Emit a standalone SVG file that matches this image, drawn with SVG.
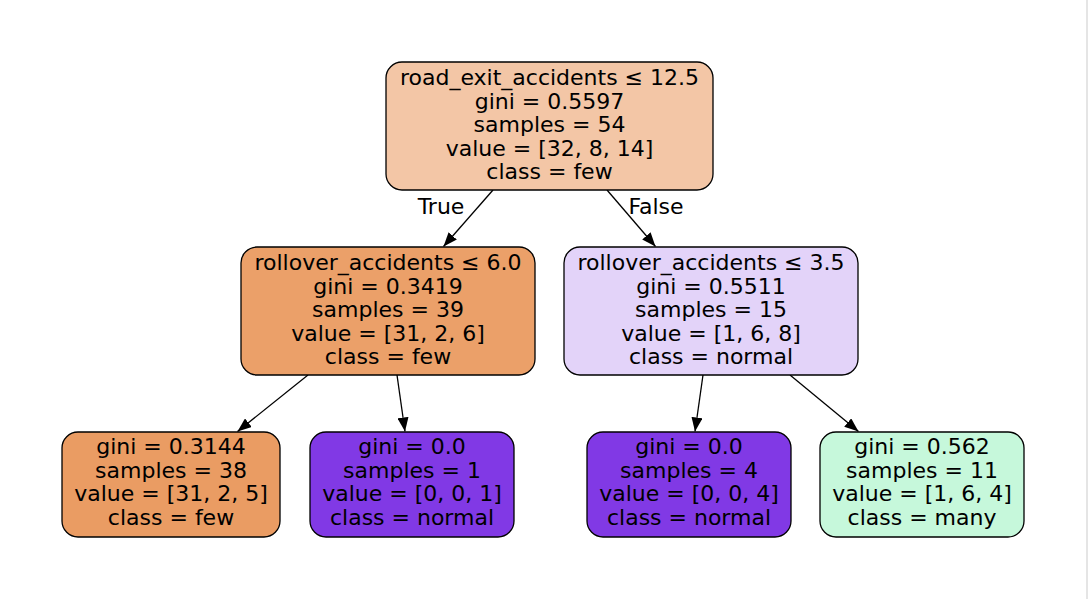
<svg xmlns="http://www.w3.org/2000/svg" width="1088" height="599" viewBox="0 0 1088 599">
<defs>
<style>
.n rect{stroke:#000;stroke-width:1.3}
text{font-family:"DejaVu Sans",sans-serif;font-size:22px;fill:#000;text-anchor:middle}
.e line{stroke:#000;stroke-width:1.3}
</style>
<marker id="ah" viewBox="0 0 14 11" refX="14" refY="5.5" markerWidth="14" markerHeight="11" markerUnits="userSpaceOnUse" orient="auto"><path d="M0,0L14,5.5L0,11z" fill="#000"/></marker>
</defs>
<rect x="0" y="0" width="1088" height="599" fill="#fff"/>
<line x1="1087" y1="0" x2="1087" y2="599" stroke="#dcdcdc" stroke-width="1.5"/>
<g class="e" id="connectors">
<line x1="493" y1="190" x2="443.5" y2="246.5" marker-end="url(#ah)"/>
<line x1="607" y1="190" x2="655.5" y2="246.5" marker-end="url(#ah)"/>
<line x1="308" y1="375" x2="237.5" y2="431.5" marker-end="url(#ah)"/>
<line x1="397" y1="375" x2="405" y2="431.5" marker-end="url(#ah)"/>
<line x1="703" y1="375" x2="695" y2="431.5" marker-end="url(#ah)"/>
<line x1="790" y1="375" x2="858.5" y2="431.5" marker-end="url(#ah)"/>
<text x="441" y="214">True</text>
<text x="656" y="214">False</text>
</g>
<g class="n" id="n0">
<rect x="386" y="62" width="327" height="128" rx="16" fill="#f3c6a6"/>
<text x="549.5" y="85">road_exit_accidents ≤ 12.5</text>
<text x="549.5" y="108.5">gini = 0.5597</text>
<text x="549.5" y="132">samples = 54</text>
<text x="549.5" y="155.5">value = [32, 8, 14]</text>
<text x="549.5" y="179">class = few</text>
</g>
<g class="n" id="n1">
<rect x="241" y="247" width="294" height="128" rx="16" fill="#eba069"/>
<text x="388" y="270">rollover_accidents ≤ 6.0</text>
<text x="388" y="293.5">gini = 0.3419</text>
<text x="388" y="317">samples = 39</text>
<text x="388" y="340.5">value = [31, 2, 6]</text>
<text x="388" y="364">class = few</text>
</g>
<g class="n" id="n4">
<rect x="564" y="247" width="294" height="128" rx="16" fill="#e3d3f9"/>
<text x="711" y="270">rollover_accidents ≤ 3.5</text>
<text x="711" y="293.5">gini = 0.5511</text>
<text x="711" y="317">samples = 15</text>
<text x="711" y="340.5">value = [1, 6, 8]</text>
<text x="711" y="364">class = normal</text>
</g>
<g class="n" id="n2">
<rect x="62" y="432" width="218" height="105" rx="16" fill="#ea9c63"/>
<text x="171" y="454">gini = 0.3144</text>
<text x="171" y="477.5">samples = 38</text>
<text x="171" y="501">value = [31, 2, 5]</text>
<text x="171" y="524.5">class = few</text>
</g>
<g class="n" id="n3">
<rect x="310" y="432" width="204" height="105" rx="16" fill="#8139e5"/>
<text x="412" y="454">gini = 0.0</text>
<text x="412" y="477.5">samples = 1</text>
<text x="412" y="501">value = [0, 0, 1]</text>
<text x="412" y="524.5">class = normal</text>
</g>
<g class="n" id="n5">
<rect x="587" y="432" width="204" height="105" rx="16" fill="#8139e5"/>
<text x="689" y="454">gini = 0.0</text>
<text x="689" y="477.5">samples = 4</text>
<text x="689" y="501">value = [0, 0, 4]</text>
<text x="689" y="524.5">class = normal</text>
</g>
<g class="n" id="n6">
<rect x="820" y="432" width="204" height="105" rx="16" fill="#c6f8db"/>
<text x="922" y="454">gini = 0.562</text>
<text x="922" y="477.5">samples = 11</text>
<text x="922" y="501">value = [1, 6, 4]</text>
<text x="922" y="524.5">class = many</text>
</g>
</svg>
